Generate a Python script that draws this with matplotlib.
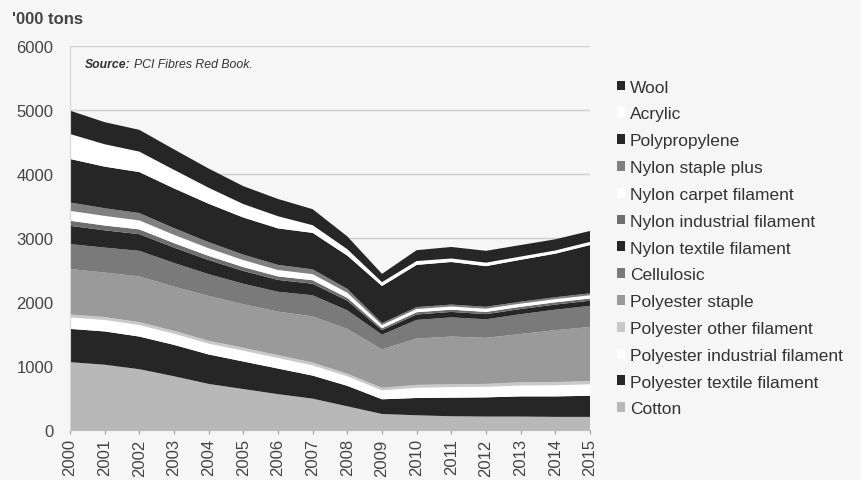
import numpy as np
import matplotlib.pyplot as plt

plt.rcParams['font.family'] = ['Liberation Sans', 'DejaVu Sans']

years = list(range(2000, 2016))

# '000 tons, stacked bottom -> top
cotton = [1060, 1020, 950, 840, 720, 640, 560, 490, 370, 250, 230, 215, 210, 210, 205, 205]
poly_textile = [520, 520, 510, 490, 460, 430, 400, 360, 320, 230, 270, 290, 300, 315, 320, 330]
poly_industrial = [180, 180, 180, 175, 170, 170, 165, 160, 150, 140, 160, 165, 165, 170, 175, 180]
poly_other = [45, 45, 45, 45, 45, 45, 45, 45, 40, 40, 45, 45, 45, 50, 50, 50]
poly_staple = [710, 695, 715, 690, 700, 680, 680, 720, 700, 600, 725, 745, 720, 755, 810, 845]
cellulosic = [390, 390, 400, 370, 340, 320, 310, 330, 290, 230, 290, 300, 290, 310, 320, 330]
nylon_textile = [285, 270, 260, 240, 220, 200, 185, 180, 150, 70, 85, 85, 80, 80, 80, 80]
nylon_industrial = [80, 75, 75, 70, 65, 60, 55, 55, 45, 30, 35, 35, 35, 35, 35, 35]
nylon_carpet = [155, 150, 140, 130, 120, 110, 100, 95, 80, 50, 50, 50, 50, 50, 50, 50]
nylon_staple = [130, 120, 115, 105, 95, 85, 80, 75, 60, 30, 30, 30, 30, 30, 30, 30]
polypropylene = [680, 650, 640, 620, 600, 580, 570, 570, 520, 580, 660, 665, 635, 655, 680, 755]
acrylic = [390, 350, 320, 290, 250, 210, 190, 120, 100, 60, 60, 55, 55, 50, 50, 50]
wool = [365, 345, 340, 320, 300, 280, 270, 250, 200, 130, 170, 180, 185, 180, 175, 170]

names = ['Cotton', 'Polyester textile filament', 'Polyester industrial filament',
         'Polyester other filament', 'Polyester staple', 'Cellulosic',
         'Nylon textile filament', 'Nylon industrial filament', 'Nylon carpet filament',
         'Nylon staple plus', 'Polypropylene', 'Acrylic', 'Wool']
series = [cotton, poly_textile, poly_industrial, poly_other, poly_staple, cellulosic,
          nylon_textile, nylon_industrial, nylon_carpet, nylon_staple, polypropylene,
          acrylic, wool]
colors = ['#b8b8b8', '#262626', '#ffffff', '#c9c9c9', '#9a9a9a', '#7a7a7a',
          '#262626', '#6e6e6e', '#ffffff', '#808080', '#262626', '#ffffff', '#262626']

bg = '#f6f6f6'
fig = plt.figure(figsize=(8.61, 4.81), dpi=100, facecolor=bg)
ax = fig.add_axes([70/861, 50/481, 520/861, 384/481], facecolor=bg)

ax.stackplot(years, *series, colors=colors, labels=names, linewidth=0)

ax.set_xlim(2000, 2015)
ax.set_ylim(0, 6000)
ax.set_yticks(range(0, 6001, 1000))
ax.set_xticks(years)
ax.set_xticklabels([str(y) for y in years], rotation=90)
ax.tick_params(axis='y', length=0, labelsize=12, labelcolor='#444', pad=12)
ax.tick_params(axis='x', length=3, color='#999', labelsize=12, labelcolor='#444', pad=3)
ax.yaxis.grid(True, color='#cfcfcf', linewidth=1)
ax.set_axisbelow(True)
for s in ['top', 'right']:
    ax.spines[s].set_visible(False)
ax.spines['left'].set_color('#d5d5d5')
ax.spines['bottom'].set_color('#bbbbbb')

fig.text(12/861, 1 - 20/481, "'000 tons", fontsize=12, fontweight='bold', color='#444', va='center')
ax.text(0.028, 0.953, 'Source:', transform=ax.transAxes, fontsize=8.8, style='italic',
        fontweight='bold', color='#333', va='center')
ax.text(0.124, 0.953, 'PCI Fibres Red Book.', transform=ax.transAxes, fontsize=8.8,
        style='italic', color='#333', va='center')

handles, labels = ax.get_legend_handles_labels()
fig.legend(handles[::-1], labels[::-1], loc='upper left',
           bbox_to_anchor=(608/861, 1 - 72/481), frameon=False,
           fontsize=12.5, labelcolor='#333', handlelength=0.5, handleheight=0.5,
           handletextpad=0.25, labelspacing=0.68, borderpad=0)

fig.savefig('out.png', dpi=100, facecolor=bg)
